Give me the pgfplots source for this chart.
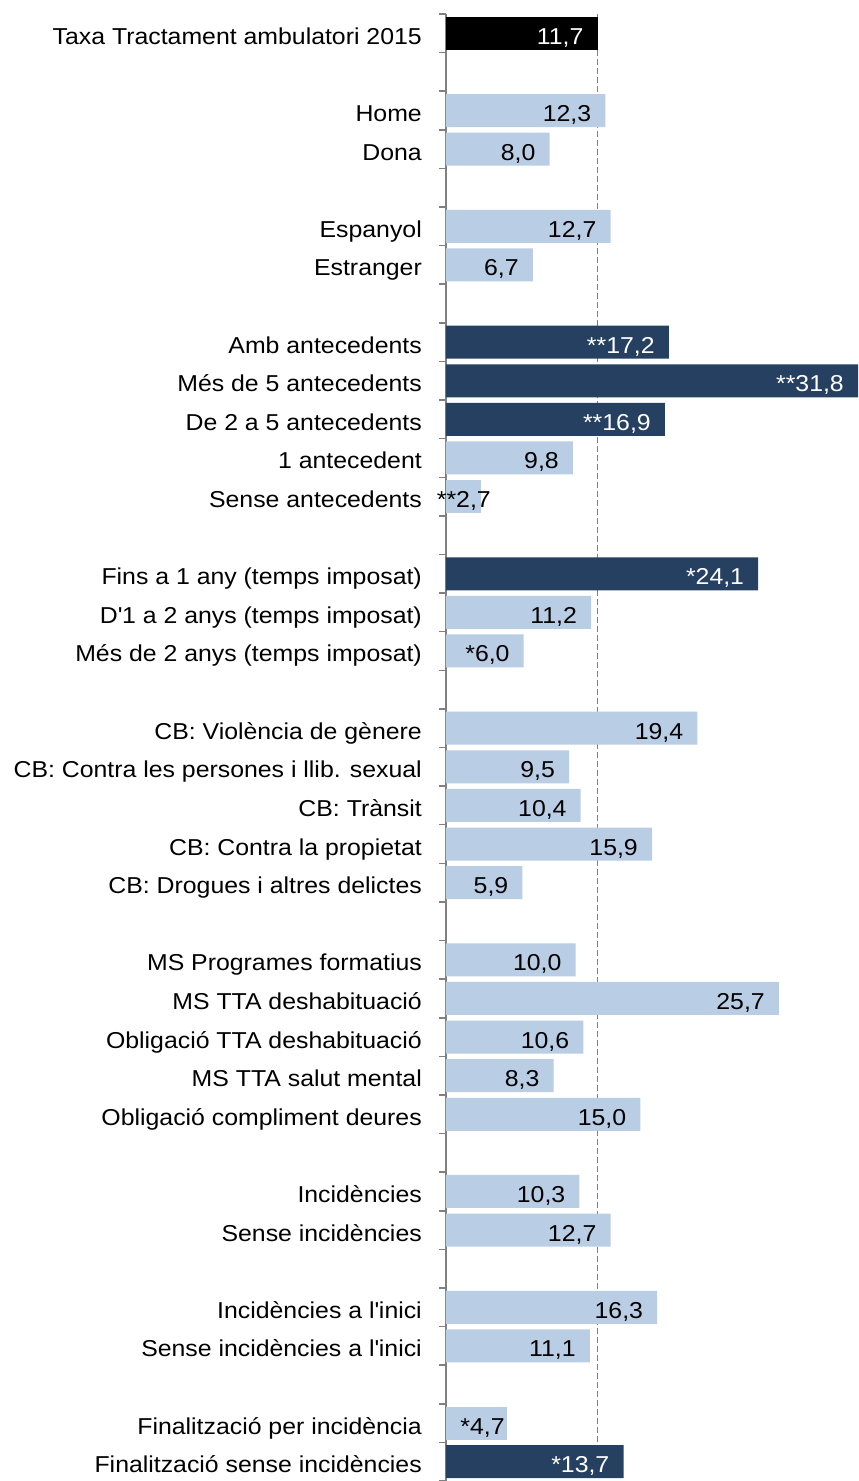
\documentclass[border=0pt]{standalone}
\usepackage{pgfplots}
\pgfplotsset{compat=1.18}
\usepackage{fontspec}
\setmainfont{Liberation Sans}[FakeStretch=1.08]
\definecolor{darkbar}{RGB}{38,64,97}
\definecolor{lightbar}{RGB}{185,205,229}
\definecolor{axgray}{RGB}{128,128,128}
\newcommand{\labfont}{\fontsize{23}{27}\selectfont}
\begin{document}
\begin{tikzpicture}
\begin{axis}[
  name=ax, scale only axis, width=412pt, height=1467pt,
  xmin=0, xmax=31.8, ymin=-0.5, ymax=37.5, y dir=reverse,
  axis x line=none, axis y line*=left,
  y axis line style={axgray, line width=1.5pt},
  clip=false,
  ytick={0,...,37},
  yticklabels={{Taxa Tractament  ambulatori 2015},{},{Home},{Dona},{},{Espanyol},{Estranger},{},
    {Amb antecedents},{Més de 5 antecedents},{De 2 a 5 antecedents},{1 antecedent},{Sense antecedents},{},
    {Fins a 1 any (temps imposat)},{D\textquotesingle 1 a 2 anys (temps imposat)},{Més de 2 anys (temps imposat)},{},
    {CB: Violència de gènere},{CB: Contra les persones i llib. sexual},{CB: Trànsit},{CB: Contra la propietat},{CB: Drogues i altres delictes},{},
    {MS Programes formatius},{MS TTA  deshabituació},{Obligació TTA deshabituació},{MS TTA  salut mental},{Obligació compliment deures},{},
    {Incidències},{Sense incidències},{},
    {Incidències a l\textquotesingle inici},{Sense incidències a l\textquotesingle inici},{},
    {Finalització per incidència},{Finalització sense incidències}},
  major tick length=0pt,
  minor ytick={-0.5,0.5,...,37.5},
  minor tick length=7pt,
  tick align=outside,
  minor tick style={axgray, line width=1.5pt},
  yticklabel style={font=\labfont, anchor=base east, xshift=-24pt, yshift=-11pt, inner sep=0pt},
  bar width=33pt,
  point meta=explicit symbolic,
]
\addplot[axgray, dash pattern=on 6pt off 3pt, line width=1.6pt, forget plot] coordinates {(11.7,-0.5) (11.7,37.5)};

% black reference bar
\addplot[xbar, bar shift=0pt, fill=black, draw=none,
  nodes near coords,
  every node near coord/.append style={anchor=base east, xshift=-14pt, yshift=-11pt, inner sep=0pt, font=\labfont, text=white}]
  table[x=x, y=y, meta=lab] {
x y lab
11.7 0 11,7
};

% dark (significant) bars
\addplot[xbar, bar shift=0pt, fill=darkbar, draw=none,
  nodes near coords,
  every node near coord/.append style={anchor=base east, xshift=-14pt, yshift=-11pt, inner sep=0pt, font=\labfont, text=white}]
  table[x=x, y=y, meta=lab] {
x y lab
17.2 8 **17,2
31.8 9 **31,8
16.9 10 **16,9
24.1 14 *24,1
13.7 37 *13,7
};

% light bars
\addplot[xbar, bar shift=0pt, fill=lightbar, draw=none,
  nodes near coords,
  every node near coord/.append style={anchor=base east, xshift=-14pt, yshift=-11pt, inner sep=0pt, font=\labfont, text=black}]
  table[x=x, y=y, meta=lab] {
x y lab
12.3 2 12,3
8.0 3 8,0
12.7 5 12,7
6.7 6 6,7
9.8 11 9,8
11.2 15 11,2
6.0 16 *6,0
19.4 18 19,4
9.5 19 9,5
10.4 20 10,4
15.9 21 15,9
5.9 22 5,9
10.0 24 10,0
25.7 25 25,7
10.6 26 10,6
8.3 27 8,3
15.0 28 15,0
10.3 30 10,3
12.7 31 12,7
16.3 33 16,3
11.1 34 11,1
};

% light bars with labels that do not fit
\addplot[xbar, bar shift=0pt, fill=lightbar, draw=none,
  nodes near coords,
  every node near coord/.append style={anchor=base east, xshift=10pt, yshift=-11pt, inner sep=0pt, font=\labfont, text=black}]
  table[x=x, y=y, meta=lab] {
x y lab
2.7 12 **2,7
};
\addplot[xbar, bar shift=0pt, fill=lightbar, draw=none,
  nodes near coords,
  every node near coord/.append style={anchor=base east, xshift=-2pt, yshift=-11pt, inner sep=0pt, font=\labfont, text=black}]
  table[x=x, y=y, meta=lab] {
x y lab
4.7 36 *4,7
};
\end{axis}
\pgfresetboundingbox
\path ([xshift=-446pt]ax.south west) rectangle ([yshift=14pt]ax.north east);
\end{tikzpicture}
\end{document}
